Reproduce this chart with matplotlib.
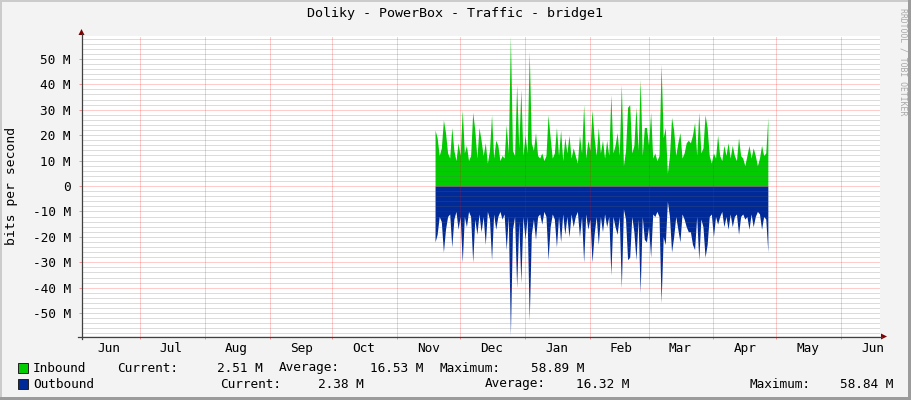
import datetime as dt
import matplotlib
matplotlib.use('Agg')
import matplotlib.pyplot as plt
from matplotlib.lines import Line2D
from matplotlib.patches import Polygon, Rectangle

plt.rcParams['font.family'] = ['DejaVu Sans Mono']

# Text
title = 'Doliky - PowerBox - Traffic - bridge1'
y_label = 'bits per second'
credit = 'RRDTOOL / TOBI OETIKER'

# Axis ticks (Mbit/s)
y_ticks = [-50, -40, -30, -20, -10, 0, 10, 20, 30, 40, 50]
y_tick_labels = ['-50 M', '-40 M', '-30 M', '-20 M', '-10 M', '0',
                 '10 M', '20 M', '30 M', '40 M', '50 M']
y_minor_ticks = list(range(-58, 59, 2))
month_starts = [(2013, 6), (2013, 7), (2013, 8), (2013, 9), (2013, 10),
                (2013, 11), (2013, 12), (2014, 1), (2014, 2), (2014, 3),
                (2014, 4), (2014, 5), (2014, 6)]
month_labels = ['Jun', 'Jul', 'Aug', 'Sep', 'Oct', 'Nov', 'Dec',
                'Jan', 'Feb', 'Mar', 'Apr', 'May', 'Jun']

# Daily traffic samples in Mbit/s, starting 19 Nov
first_sample = dt.datetime(2013, 11, 19)
inbound = [22, 19, 12, 15, 26, 21, 13, 11, 23, 14,
           10, 17, 12, 30, 13, 16, 10, 12, 29, 22,
           11, 23, 18, 12, 17, 9, 14, 28, 11, 18,
           16, 10, 12, 11, 24, 13, 58.9, 14, 12, 40,
           15, 38, 12, 20, 13, 53, 17, 14, 21, 12,
           11, 13, 10, 12, 28, 19, 11, 13, 23, 12,
           22, 10, 19, 13, 20, 11, 15, 12, 9, 20,
           13, 32, 11, 18, 14, 30, 19, 12, 23, 13,
           18, 11, 18, 12, 36, 13, 16, 21, 12, 40,
           8, 14, 31, 32, 13, 16, 31, 14, 42, 12,
           23, 23, 16, 29, 11, 13, 10, 12, 48, 19,
           23, 5, 12, 27, 22, 12, 17, 21, 11, 13,
           17, 18, 17, 20, 25, 12, 29, 13, 15, 28,
           23, 12, 9, 13, 11, 20, 12, 10, 16, 12,
           17, 11, 16, 12, 10, 19, 12, 11, 8, 12,
           16, 11, 15, 12, 8, 11, 16, 12, 13, 27]
outbound = [22, 19, 12, 14, 26, 17, 12, 11, 24, 13,
            10, 17, 12, 30, 12, 16, 10, 12, 30, 13,
            19, 11, 18, 12, 23, 10, 13, 29, 11, 17,
            12, 10, 13, 11, 25, 12, 58.8, 17, 12, 40,
            14, 38, 12, 21, 12, 53, 19, 13, 21, 12,
            11, 15, 10, 12, 29, 16, 11, 13, 24, 12,
            22, 11, 19, 12, 20, 11, 16, 12, 10, 20,
            12, 30, 11, 17, 13, 30, 19, 12, 23, 12,
            18, 11, 16, 12, 35, 12, 16, 19, 12, 40,
            9, 13, 29, 28, 12, 18, 29, 13, 42, 12,
            21, 22, 16, 28, 11, 12, 10, 12, 46, 20,
            23, 6, 12, 26, 20, 12, 17, 22, 11, 13,
            16, 18, 18, 23, 25, 12, 29, 13, 16, 28,
            23, 12, 11, 20, 12, 15, 12, 10, 16, 12,
            17, 11, 16, 12, 11, 19, 12, 11, 13, 12,
            17, 11, 16, 12, 10, 11, 17, 12, 13, 26]

# Legend (rrdtool style)
series_names = ['Inbound', 'Outbound']
current = ['2.51 M', '2.38 M']
average = ['16.53 M', '16.32 M']
maximum = ['58.89 M', '58.84 M']

green = '#00CC00'
blue = '#002A97'

W, H = 911, 400


def fx(px):
    return px / W


def fy(py):
    return 1 - py / H


fig = plt.figure(figsize=(W / 100, H / 100), dpi=100, facecolor='#F3F3F3')

# 3D frame
fig.add_artist(Rectangle((0, 0), fx(2), 1, transform=fig.transFigure,
                         color='#CBCBCB', lw=0))
fig.add_artist(Rectangle((0, fy(2)), 1, 2 / H, transform=fig.transFigure,
                         color='#CBCBCB', lw=0))
fig.add_artist(Rectangle((fx(908), 0), fx(3), 1, transform=fig.transFigure,
                         color='#9B9B9B', lw=0))
fig.add_artist(Rectangle((0, 0), 1, 3 / H, transform=fig.transFigure,
                         color='#9B9B9B', lw=0))

ax = fig.add_axes([fx(82), fy(336), fx(880 - 82), (336 - 36) / H])
ax.set_facecolor('white')

times = [first_sample + dt.timedelta(days=i) for i in range(len(inbound))]
ax.fill_between(times, 0, inbound, color=green, lw=0, zorder=1)
ax.fill_between(times, [-v for v in outbound], 0, color=blue, lw=0, zorder=1)

ax.set_xlim(dt.datetime(2013, 6, 3, 8), dt.datetime(2014, 6, 19, 14))
ax.set_ylim(-59, 59)

# Grid, drawn over the areas like rrdtool does
starts = [dt.datetime(y, m, 1) for y, m in month_starts]
mids = [dt.datetime(y, m, 16) for y, m in month_starts]
major_col = (1.0, 0.0, 0.0, 0.4)
minor_col = (0.4, 0.4, 0.4, 0.45)
dots = (0, (1, 1))
for v in y_minor_ticks:
    if v % 10:
        ax.axhline(v, color=minor_col, lw=0.72, ls=dots, zorder=2)
for v in y_ticks:
    ax.axhline(v, color=major_col, lw=0.72, ls=dots, zorder=3)
for d in starts[1:]:
    ax.axvline(d, color=major_col, lw=0.72, ls=dots, zorder=3)

ax.set_xticks(starts[1:])
ax.set_xticklabels([])
ax.set_xticks(mids, minor=True)
ax.set_xticklabels(month_labels, minor=True)
ax.set_yticks(y_ticks)
ax.set_yticklabels(y_tick_labels)

ax.tick_params(which='major', length=2, width=0.72, color=major_col,
               labelsize=9.2, pad=6)
ax.tick_params(axis='x', which='minor', length=0, labelsize=9.2, pad=4.5)
for s in ax.spines.values():
    s.set_visible(False)

# Axis lines with arrows
axis_col = '#404040'
arrow_col = '#7F0000'
fig.add_artist(Line2D([fx(81.5), fx(81.5)], [fy(339), fy(34)],
                      transform=fig.transFigure, color=axis_col, lw=0.9))
fig.add_artist(Line2D([fx(78), fx(882)], [fy(336.5), fy(336.5)],
                      transform=fig.transFigure, color=axis_col, lw=0.9))
fig.add_artist(Polygon([(fx(78.5), fy(35)), (fx(84.5), fy(35)), (fx(81.5), fy(29))],
                       closed=True, transform=fig.transFigure, color=arrow_col, lw=0))
fig.add_artist(Polygon([(fx(881), fy(333.5)), (fx(881), fy(339.5)), (fx(887), fy(336.5))],
                       closed=True, transform=fig.transFigure, color=arrow_col, lw=0))

# Texts
fig.text(fx(455), fy(14), title, ha='center', va='center', fontsize=9.6)
fig.text(fx(12), fy(186), y_label, ha='center', va='center', rotation=90,
         fontsize=9.4)
fig.text(fx(903), fy(8), credit, ha='center', va='top', rotation=270,
         fontsize=5.9, color='#A8A8A8')

# Legend
colors = [green, blue]
rows_y = [368, 384]
label_x = [(117, 263, 279, 423, 440, 584), (220, 364, 485, 629, 749, 893)]
for i in range(2):
    y = fy(rows_y[i])
    fig.add_artist(Rectangle((fx(17.5), fy(rows_y[i] + 5)), fx(10), 10 / H,
                             transform=fig.transFigure, facecolor=colors[i],
                             edgecolor='#202020', lw=0.7))
    fig.text(fx(33), y, series_names[i], ha='left', va='center', fontsize=9.2)
    xs = label_x[i]
    fig.text(fx(xs[0]), y, 'Current:', ha='left', va='center', fontsize=9.2)
    fig.text(fx(xs[1]), y, current[i], ha='right', va='center', fontsize=9.2)
    fig.text(fx(xs[2]), y, 'Average:', ha='left', va='center', fontsize=9.2)
    fig.text(fx(xs[3]), y, average[i], ha='right', va='center', fontsize=9.2)
    fig.text(fx(xs[4]), y, 'Maximum:', ha='left', va='center', fontsize=9.2)
    fig.text(fx(xs[5]), y, maximum[i], ha='right', va='center', fontsize=9.2)

fig.savefig('out.png', dpi=100, facecolor=fig.get_facecolor())
